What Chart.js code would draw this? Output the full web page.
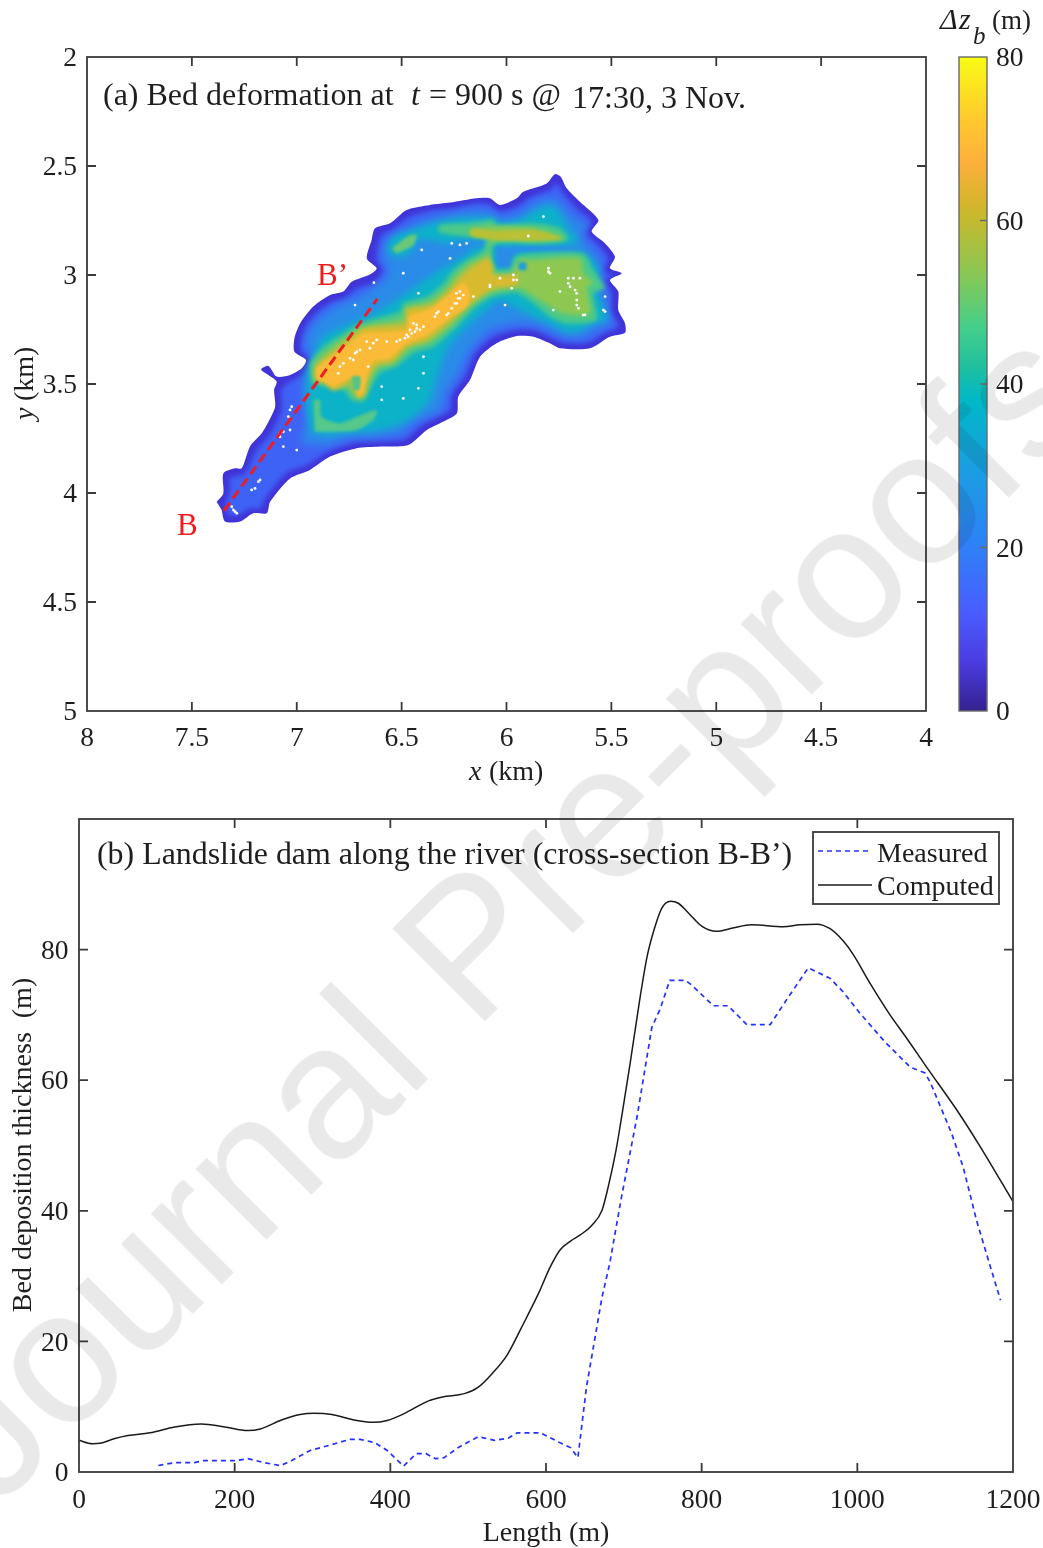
<!DOCTYPE html>
<html><head><meta charset="utf-8">
<style>
html,body{margin:0;padding:0;background:#fff;width:1043px;height:1548px;overflow:hidden}
.box{position:absolute}
#wm{position:absolute;left:502px;top:911px;white-space:nowrap;font:190px "Liberation Sans",sans-serif;color:#e9e9e9;mix-blend-mode:multiply;transform:translate(-50%,-50%) rotate(-45deg);pointer-events:none;z-index:5}
</style>
<script src="https://cdn.jsdelivr.net/npm/chart.js@4/dist/chart.umd.js"></script>
</head><body>
<div class="box" style="left:0;top:0;width:945px;height:800px"><canvas id="map"></canvas></div>
<div class="box" style="left:925px;top:0;width:118px;height:800px"><canvas id="cb"></canvas></div>
<div class="box" style="left:0;top:800px;width:1043px;height:748px"><canvas id="prof"></canvas></div>
<div id="wm">Journal Pre-proofs</div>
<script>
// ---------- panel (a): tick labels, km ----------
const mapXTicks=[8,7.5,7,6.5,6,5.5,5,4.5,4];
const mapYTicks=[2,2.5,3,3.5,4,4.5,5];
const cbTicks=[0,20,40,60,80];
const cbValues=[0,6,12,20,30,38,42,47,53,60,62,67,72,80];
const cbColors=['#35218f','#4a3ce0','#4a5cff','#2f80f8','#1a9fe0','#00b8c8','#1fbfa0','#45cf8a','#85c858','#c3ba2f','#d4b52c','#fdb03c','#ffc72f','#f9fb15'];
// contour bands of bed deformation: [x km, y km]
const band0=[[7.382,4.040],[7.350,4.002],[7.350,3.910],[7.294,3.887],[7.262,3.887],[7.223,3.787],[7.167,3.726],[7.135,3.673],[7.103,3.604],[7.108,3.527],[7.096,3.489],[7.135,3.459],[7.170,3.433],[7.135,3.417],[7.096,3.466],[7.032,3.459],[6.976,3.428],[6.956,3.390],[7.011,3.352],[7.011,3.290],[6.984,3.222],[6.921,3.145],[6.841,3.092],[6.778,3.076],[6.738,3.031],[6.651,2.998],[6.619,2.969],[6.666,2.924],[6.643,2.839],[6.627,2.786],[6.555,2.763],[6.476,2.702],[6.365,2.679],[6.269,2.668],[6.142,2.648],[6.079,2.648],[6.031,2.679],[5.951,2.648],[5.920,2.618],[5.808,2.580],[5.769,2.537],[5.742,2.549],[5.713,2.602],[5.650,2.664],[5.562,2.748],[5.594,2.801],[5.530,2.855],[5.483,2.916],[5.507,2.969],[5.451,2.992],[5.507,3.023],[5.467,3.076],[5.467,3.161],[5.435,3.222],[5.435,3.265],[5.507,3.283],[5.602,3.336],[5.745,3.336],[5.793,3.313],[5.872,3.283],[5.951,3.280],[6.047,3.313],[6.126,3.375],[6.174,3.482],[6.230,3.558],[6.237,3.635],[6.317,3.680],[6.380,3.711],[6.468,3.780],[6.603,3.787],[6.714,3.795],[6.841,3.833],[6.937,3.894],[7.032,3.933],[7.127,4.040],[7.143,4.093],[7.207,4.093],[7.270,4.131],[7.342,4.131],[7.358,4.078]];
const band1=[[7.342,4.063],[7.318,3.979],[7.318,3.933],[7.262,3.917],[7.239,3.902],[7.191,3.803],[7.135,3.742],[7.103,3.688],[7.072,3.619],[7.072,3.528],[7.032,3.489],[6.953,3.451],[6.921,3.398],[6.976,3.352],[6.976,3.298],[6.953,3.229],[6.897,3.168],[6.825,3.122],[6.762,3.102],[6.714,3.061],[6.635,3.038],[6.587,2.977],[6.619,2.931],[6.611,2.855],[6.595,2.817],[6.539,2.786],[6.460,2.732],[6.349,2.702],[6.253,2.694],[6.142,2.671],[6.079,2.679],[6.031,2.709],[5.936,2.679],[5.896,2.648],[5.793,2.610],[5.761,2.580],[5.729,2.625],[5.665,2.694],[5.594,2.755],[5.618,2.809],[5.562,2.862],[5.515,2.924],[5.538,2.985],[5.491,3.000],[5.530,3.023],[5.499,3.084],[5.499,3.168],[5.467,3.229],[5.475,3.245],[5.522,3.260],[5.610,3.310],[5.729,3.310],[5.777,3.291],[5.864,3.255],[5.951,3.252],[6.063,3.283],[6.150,3.359],[6.198,3.466],[6.261,3.550],[6.269,3.619],[6.341,3.657],[6.404,3.688],[6.484,3.754],[6.611,3.764],[6.722,3.769],[6.849,3.810],[6.953,3.872],[7.048,3.907],[7.151,4.024],[7.175,4.070],[7.223,4.070],[7.278,4.101],[7.326,4.101]];
const band2=[[6.984,3.772],[6.953,3.665],[6.968,3.543],[6.968,3.451],[6.913,3.375],[6.953,3.336],[6.945,3.268],[6.881,3.191],[6.810,3.145],[6.698,3.099],[6.635,3.061],[6.563,2.998],[6.587,2.916],[6.563,2.839],[6.508,2.809],[6.428,2.763],[6.317,2.732],[6.190,2.709],[6.079,2.709],[6.031,2.740],[5.936,2.717],[5.856,2.664],[5.777,2.648],[5.737,2.671],[5.681,2.740],[5.618,2.771],[5.650,2.817],[5.602,2.878],[5.554,2.931],[5.570,2.992],[5.530,3.008],[5.562,3.031],[5.530,3.099],[5.522,3.191],[5.499,3.229],[5.554,3.237],[5.634,3.283],[5.721,3.283],[5.777,3.260],[5.856,3.229],[5.959,3.222],[6.079,3.252],[6.174,3.344],[6.230,3.451],[6.293,3.543],[6.309,3.612],[6.365,3.642],[6.436,3.673],[6.508,3.726],[6.635,3.742],[6.746,3.745],[6.857,3.780]];
const band3=[[6.929,3.719],[6.953,3.604],[6.945,3.466],[6.929,3.390],[6.873,3.283],[6.778,3.237],[6.635,3.176],[6.524,3.115],[6.412,3.038],[6.317,2.977],[6.206,2.916],[6.142,2.870],[6.110,2.885],[6.094,2.839],[6.222,2.839],[6.285,2.855],[6.365,2.839],[6.428,2.839],[6.460,2.901],[6.524,2.916],[6.571,2.885],[6.539,2.824],[6.444,2.794],[6.349,2.763],[6.206,2.740],[6.063,2.740],[6.031,2.763],[5.936,2.748],[5.856,2.702],[5.777,2.687],[5.737,2.732],[5.697,2.801],[5.650,2.839],[5.713,2.862],[5.665,2.885],[5.602,2.924],[5.554,2.977],[5.570,3.023],[5.570,3.084],[5.546,3.130],[5.515,3.206],[5.570,3.214],[5.665,3.260],[5.721,3.260],[5.793,3.222],[5.872,3.191],[5.967,3.145],[6.031,3.115],[6.094,3.161],[6.206,3.252],[6.285,3.344],[6.325,3.451],[6.365,3.573],[6.444,3.650],[6.539,3.696],[6.666,3.719],[6.778,3.726],[6.857,3.734]];
const notchN=[[6.055,2.867],[5.713,2.867],[5.634,2.893],[5.951,2.901],[5.975,2.969],[6.047,2.969]];
const band4a=[[6.929,3.497],[6.937,3.405],[6.873,3.329],[6.778,3.268],[6.698,3.222],[6.508,3.168],[6.492,3.130],[6.381,3.099],[6.301,3.038],[6.253,2.977],[6.190,2.931],[6.110,2.885],[6.102,2.832],[6.190,2.824],[6.253,2.817],[6.325,2.801],[6.317,2.771],[6.190,2.763],[6.063,2.748],[6.047,2.771],[5.872,2.763],[5.745,2.786],[5.705,2.839],[5.808,2.855],[6.063,2.862],[6.055,2.969],[5.983,2.969],[5.959,2.916],[5.872,2.901],[5.634,2.901],[5.586,2.977],[5.530,3.061],[5.586,3.084],[5.570,3.206],[5.713,3.222],[5.793,3.191],[5.872,3.130],[5.951,3.084],[6.063,3.099],[6.142,3.145],[6.237,3.237],[6.349,3.329],[6.444,3.359],[6.524,3.420],[6.603,3.451],[6.651,3.527],[6.682,3.581],[6.738,3.573],[6.778,3.527],[6.873,3.512]];
const band4b=[[6.921,3.573],[6.889,3.573],[6.881,3.650],[6.794,3.680],[6.714,3.650],[6.619,3.619],[6.635,3.665],[6.714,3.711],[6.825,3.719],[6.913,3.719]];
const band4c=[[6.547,2.878],[6.460,2.817],[6.428,2.817],[6.444,2.862],[6.524,2.901]];
const band5=[[6.913,3.482],[6.913,3.405],[6.849,3.344],[6.762,3.283],[6.682,3.237],[6.492,3.199],[6.484,3.153],[6.365,3.122],[6.285,3.061],[6.238,3.000],[6.174,2.946],[6.094,2.908],[6.079,2.870],[6.079,2.832],[6.158,2.824],[6.174,2.794],[6.063,2.778],[5.872,2.786],[5.729,2.832],[5.872,2.847],[6.063,2.847],[6.079,2.977],[6.063,2.992],[5.983,3.000],[5.936,2.931],[5.872,2.931],[5.650,2.924],[5.634,2.992],[5.586,3.038],[5.618,3.054],[5.602,3.176],[5.729,3.176],[5.840,3.115],[5.936,3.061],[6.063,3.076],[6.158,3.130],[6.253,3.222],[6.365,3.306],[6.460,3.336],[6.539,3.405],[6.619,3.428],[6.666,3.527],[6.698,3.566],[6.730,3.543],[6.762,3.512],[6.825,3.527],[6.857,3.497]];
const notchE=[[5.943,2.943],[5.907,2.943],[5.907,2.977],[5.943,2.977]];
const band6a=[[6.913,3.482],[6.913,3.428],[6.833,3.359],[6.746,3.291],[6.682,3.245],[6.476,3.222],[6.476,3.161],[6.357,3.138],[6.277,3.076],[6.222,3.015],[6.158,2.962],[6.087,2.924],[6.063,2.962],[6.063,3.000],[5.951,3.000],[5.951,3.046],[6.063,3.061],[6.158,3.122],[6.261,3.206],[6.381,3.298],[6.476,3.329],[6.547,3.398],[6.619,3.413],[6.666,3.489],[6.674,3.550],[6.714,3.558],[6.738,3.466],[6.762,3.497],[6.825,3.527],[6.865,3.497]];
const band6b=[[6.047,2.801],[5.872,2.794],[5.737,2.832],[5.872,2.839],[6.047,2.839],[6.174,2.817],[6.166,2.786]];
const band7=[[6.905,3.474],[6.905,3.428],[6.825,3.367],[6.738,3.306],[6.682,3.268],[6.476,3.252],[6.468,3.191],[6.357,3.153],[6.277,3.092],[6.206,3.038],[6.174,3.084],[6.190,3.145],[6.261,3.191],[6.381,3.275],[6.476,3.314],[6.555,3.382],[6.635,3.398],[6.666,3.466],[6.682,3.535],[6.706,3.558],[6.714,3.466],[6.762,3.482],[6.825,3.512]];
const notchS=[[6.738,3.466],[6.698,3.466],[6.701,3.527],[6.730,3.527]];
const speckles=[[6.722,3.138],[6.420,3.084],[6.492,2.992],[6.404,2.885],[6.261,2.855],[6.222,2.862],[6.190,2.855],[6.269,2.924],[6.079,3.046],[5.975,3.061],[6.031,3.015],[5.951,3.023],[5.800,2.985],[5.705,3.038],[5.673,3.069],[5.665,3.115],[5.657,3.153],[5.634,3.184],[5.530,3.099],[5.530,3.168],[5.777,3.161],[5.745,3.076],[5.824,2.732],[5.896,2.821],[6.007,3.138],[6.158,3.099],[6.222,3.107],[6.238,3.130],[6.277,3.176],[6.333,3.176],[6.428,3.229],[6.460,3.252],[6.476,3.275],[6.508,3.298],[6.635,3.313],[6.698,3.344],[6.746,3.382],[6.794,3.420],[6.659,3.420],[6.595,3.512],[6.595,3.573],[6.492,3.566],[6.420,3.520],[6.396,3.375],[6.396,3.451],[7.032,3.619],[7.080,3.726],[7.032,3.711],[7.064,3.787],[7.000,3.803],[7.175,3.940],[7.215,3.986],[7.302,4.078],[7.286,4.093],[6.632,3.035],
 [6.444,3.222],[6.428,3.245],[6.412,3.252],[6.396,3.237],[6.452,3.268],[6.484,3.290],[6.468,3.283],[6.436,3.260],
 [6.238,3.084],[6.222,3.076],[6.206,3.092],[6.230,3.107],[6.245,3.130],[6.261,3.153],[6.285,3.183],[6.325,3.168],[6.341,3.191],
 [6.666,3.306],[6.619,3.298],[6.571,3.306],[6.524,3.306],[6.651,3.336],[6.714,3.352],[6.730,3.390],[6.778,3.405],[6.802,3.451],[6.722,3.359],
 [5.705,3.015],[5.681,3.015],[5.650,3.015],[5.697,3.054],[5.665,3.084],[5.665,3.138],[5.626,3.183],[5.800,2.969],[5.793,2.992],[5.967,3.000],[5.967,3.023],[6.079,3.054],[5.538,3.161],
 [7.040,3.650],[7.024,3.604],[7.080,3.742],[7.064,3.719],[7.199,3.979],[7.183,3.948],[7.310,4.063],[7.294,4.086]];
const lineBB=[[7.347,4.081],[6.616,3.110]];
// ---------- panel (b) ----------
const profXTicks=[0,200,400,600,800,1000,1200];
const profYTicks=[0,20,40,60,80];
const computedX=[0,17,27,45,63,91,123,157,187,217,233,261,284,302,325,352,378,396,417,449,467,495,513,531,550,568,591,605,618,632,644,659,672,680,690,698,708,720,730,740,749,760,770,783,800,819,840,864,905,926,948,965,982,995,1016,1042,1063,1089,1128,1158,1200];
const computedY=[4.85,4.34,4.4,5.1,5.6,6.0,6.9,7.35,6.9,6.35,6.6,8.0,8.8,9.0,8.8,8.0,7.6,7.9,8.9,10.9,11.5,12.0,13.0,15.1,17.9,22,27.5,31.3,34,35.4,36.3,37.8,40.1,43.7,49.3,55,62.5,72,79,83.5,86.4,87.4,87.1,85.6,83.6,82.8,83.3,83.8,83.5,83.8,83.9,83.2,81.3,79.2,74.9,70,66.5,62,55.4,49.8,41.4];
const measuredX=[102,123,148,160,201,217,238,259,274,297,325,348,361,380,396,417,433,446,458,469,488,513,534,552,563,593,616,632,641,652,672,682,697,717,736,747,759,779,787,815,834,858,888,909,937,965,982,1003,1036,1068,1087,1094,1121,1136,1153,1171,1184];
const measuredY=[1.0,1.43,1.43,1.74,1.74,2.04,1.43,0.97,1.8,3.3,4.2,5.0,5.0,4.5,3.3,0.9,2.8,2.8,2.04,2.2,3.8,5.4,4.85,5.2,6.0,6.0,4.6,3.7,2.2,13,26.8,32,42.1,54.4,68.1,71,75.3,75.3,74.6,71.4,71.4,68.5,68.5,72.3,77.2,75.6,73.5,70.3,65.8,62,61.1,59.6,51.9,46.7,38.6,31.4,26.3];

const SERIF='"Liberation Serif","Times New Roman",serif';
const INK='#1e1e1e', AXIS='#3a3a3a';
const tick=(n)=>String(n);
const toPts=a=>a.map(p=>({x:p[0],y:p[1]}));
function put(ctx,str,x,y,o={}){
  ctx.save();
  ctx.font=(o.italic?'italic ':'')+(o.size||28)+'px '+SERIF;
  ctx.fillStyle=o.color||INK;ctx.textAlign=o.align||'left';ctx.textBaseline='alphabetic';
  ctx.translate(x,y);if(o.rot)ctx.rotate(o.rot);
  ctx.fillText(str,0,0);ctx.restore();
}
const frameTicks={id:'frameTicks',afterDraw(c,_,o){
  const a=c.chartArea,ctx=c.ctx,L=o.len||9;
  ctx.save();ctx.strokeStyle=o.color||AXIS;ctx.lineWidth=o.width||1.8;
  ctx.strokeRect(a.left,a.top,a.right-a.left,a.bottom-a.top);
  ctx.beginPath();
  if(c.scales.x&&c.scales.x.options.display!==false&&!o.rightOnly){
    c.scales.x.ticks.forEach(t=>{const p=c.scales.x.getPixelForValue(t.value);
      if(Math.abs(p-a.left)<1||Math.abs(p-a.right)<1)return;
      ctx.moveTo(p,a.bottom);ctx.lineTo(p,a.bottom-L);ctx.moveTo(p,a.top);ctx.lineTo(p,a.top+L);});
  }
  c.scales.y.ticks.forEach(t=>{const p=c.scales.y.getPixelForValue(t.value);
    if(Math.abs(p-a.top)<1||Math.abs(p-a.bottom)<1)return;
    if(!o.rightOnly){ctx.moveTo(a.left,p);ctx.lineTo(a.left+L,p);}
    ctx.moveTo(a.right,p);ctx.lineTo(a.right-L,p);});
  ctx.stroke();ctx.restore();
}};
const bandFill={id:'bandFill',beforeDatasetDraw(c,args){
  const d=c.data.datasets[args.index];if(!d.bandColor)return;
  const ctx=c.ctx,m=args.meta;
  ctx.save();
  if(args.index>0){ctx.beginPath();c.getDatasetMeta(0).dataset.path(ctx);ctx.closePath();ctx.clip();}
  if(d.bandBlur)ctx.filter='blur('+d.bandBlur+'px)';
  ctx.fillStyle=d.bandColor;ctx.beginPath();m.dataset.path(ctx);ctx.closePath();ctx.fill();
  ctx.restore();
}};
const mapText={id:'mapText',afterDraw(c){
  const ctx=c.ctx,sx=c.scales.x,sy=c.scales.y;
  put(ctx,'(a) Bed deformation at',103,105,{size:32});
  put(ctx,'t',411,105,{size:32,italic:true});
  put(ctx,'= 900 s @',429,105,{size:32});
  put(ctx,'17:30, 3 Nov.',572,108,{size:32});
  put(ctx,'B’',sx.getPixelForValue(6.903),sy.getPixelForValue(3.046),{size:31,color:'#f01c1c'});
  put(ctx,'B',sx.getPixelForValue(7.571),sy.getPixelForValue(4.193),{size:31,color:'#f01c1c'});
  put(ctx,'x',469,780,{size:28,italic:true});
  put(ctx,'(km)',489,780,{size:28});
  put(ctx,'y',33,420,{size:28,italic:true,rot:-Math.PI/2});
  put(ctx,'(km)',33,401,{size:28,rot:-Math.PI/2});
}};
const cbText={id:'cbText',afterDraw(c){
  const ctx=c.ctx;
  put(ctx,'Δ',15,29,{size:30,italic:true});
  put(ctx,'z',34,29,{size:30,italic:true});
  put(ctx,'b',48,44,{size:25,italic:true});
  put(ctx,'(m)',67,29,{size:27});
}};
const profText={id:'profText',afterDraw(c){
  const ctx=c.ctx,T=-800,d=c.data.datasets;
  put(ctx,'(b) Landslide dam along the river (cross-section B-B’)',97,864+T,{size:31.9});
  ctx.save();
  ctx.fillStyle='#fff';ctx.strokeStyle=AXIS;ctx.lineWidth=1.8;
  ctx.fillRect(813,832+T,186,72);ctx.strokeRect(813,832+T,186,72);
  ctx.lineWidth=1.5;ctx.strokeStyle=d[0].borderColor;ctx.setLineDash([5,4]);
  ctx.beginPath();ctx.moveTo(818,851+T);ctx.lineTo(872,851+T);ctx.stroke();
  ctx.setLineDash([]);ctx.strokeStyle=d[1].borderColor;
  ctx.beginPath();ctx.moveTo(818,885+T);ctx.lineTo(872,885+T);ctx.stroke();
  ctx.restore();
  put(ctx,d[0].label,877,862+T,{size:28});
  put(ctx,d[1].label,877,895+T,{size:28});
  put(ctx,'Length (m)',546,1541+T,{size:28,align:'center'});
  put(ctx,'Bed deposition thickness  (m)',31,1145+T,{size:28,align:'center',rot:-Math.PI/2});
}};
const fixAxis=(w,h)=>(s)=>{if(w!=null)s.width=w;if(h!=null)s.height=h;s.paddingLeft=s.paddingRight=s.paddingTop=s.paddingBottom=0;};
const numFont={family:SERIF,size:27.5};
const band=(data,color,blur,i)=>({data:toPts(data),showLine:true,fill:false,tension:0.25,borderWidth:0,pointRadius:0,bandColor:color,bandBlur:blur,order:100-i});
const base={responsive:false,animation:false,events:[]};
const sizeCanvas=(id,w,h)=>{const e=document.getElementById(id);e.width=w;e.height=h;e.style.width=w+'px';e.style.height=h+'px';e.style.display='block';return e;};

const sets=[
 band(band0,'#4034d8',0.5,0),band(band1,'#3f62f6',2.5,1),band(band2,'#2a8ce8',4.5,2),band(band3,'#0cb2c8',3.5,3),
 band(notchN,'#2a8ce8',2,4),band(band4a,'#4cc988',2,5),band(band4b,'#55c88a',1.5,6),band(band4c,'#6ac878',1.5,7),
 band(band5,'#8ec850',2,8),band(notchE,'#1f9ed8',1.5,9),band(band6a,'#d8ba2f',2,10),band(band6b,'#b9c035',1.5,11),
 band(band7,'#fbbb38',1.6,12),band(notchS,'#55c488',1.2,13),
 {label:'speckle',data:toPts(speckles),showLine:false,pointRadius:1.4,pointBorderWidth:0,pointBackgroundColor:'#ffffff',order:2},
 {label:'B-B’',data:toPts(lineBB),showLine:true,tension:0,fill:false,borderColor:'#ee1c25',borderWidth:3,borderDash:[10,5],pointRadius:0,order:1}
];
new Chart(sizeCanvas('map',945,800),{type:'scatter',data:{datasets:sets},plugins:[bandFill,frameTicks,mapText],options:{...base,
 layout:{padding:{top:57,right:19,left:0,bottom:0}},
 plugins:{legend:{display:false},tooltip:{enabled:false}},
 scales:{
  x:{type:'linear',reverse:true,min:4,max:8,grid:{display:false,drawTicks:false},border:{display:false},afterFit:fixAxis(null,89),
     afterBuildTicks:s=>{s.ticks=mapXTicks.map(v=>({value:v}));},ticks:{color:INK,font:numFont,padding:11,maxRotation:0,autoSkip:false,callback:tick}},
  y:{type:'linear',reverse:true,min:2,max:5,grid:{display:false,drawTicks:false},border:{display:false},afterFit:fixAxis(87,null),
     afterBuildTicks:s=>{s.ticks=mapYTicks.map(v=>({value:v}));},ticks:{color:INK,font:numFont,padding:10,labelOffset:2,autoSkip:false,callback:tick}}
 }}});

new Chart(sizeCanvas('cb',118,800),{type:'bar',data:{labels:['Δz_b'],datasets:[{data:[[cbTicks[0],cbTicks[cbTicks.length-1]]],barPercentage:1,categoryPercentage:1,borderWidth:0,
  backgroundColor(ctx){const c=ctx.chart,a=c.chartArea;if(!a)return cbColors[0];const y=c.scales.y;
   const g=c.ctx.createLinearGradient(0,y.getPixelForValue(0),0,y.getPixelForValue(80));
   cbValues.forEach((v,i)=>g.addColorStop(v/80,cbColors[i]));return g;}}]},
 plugins:[frameTicks,cbText],options:{...base,
 layout:{padding:{top:57,left:34,right:0,bottom:89}},
 plugins:{legend:{display:false},tooltip:{enabled:false},frameTicks:{rightOnly:true,color:'#6a6a6a',len:7,width:1.4}},
 scales:{x:{display:false},
  y:{position:'right',min:0,max:80,grid:{display:false,drawTicks:false},border:{display:false},afterFit:fixAxis(56,null),
     afterBuildTicks:s=>{s.ticks=cbTicks.map(v=>({value:v}));},ticks:{color:INK,font:numFont,padding:9,labelOffset:2,autoSkip:false,callback:tick}}
 }}});

new Chart(sizeCanvas('prof',1043,748),{type:'line',data:{datasets:[
 {label:'Measured',data:measuredX.map((x,i)=>({x,y:measuredY[i]})),borderColor:'#2330ff',borderWidth:1.7,borderDash:[5,4],pointRadius:0,tension:0,fill:false},
 {label:'Computed',data:computedX.map((x,i)=>({x,y:computedY[i]})),borderColor:'#1a1a1a',borderWidth:1.5,pointRadius:0,cubicInterpolationMode:'monotone',fill:false}
 ]},plugins:[frameTicks,profText],options:{...base,
 layout:{padding:{top:19,right:30,left:0,bottom:0}},
 plugins:{legend:{display:false},tooltip:{enabled:false}},
 scales:{
  x:{type:'linear',min:0,max:1200,grid:{display:false,drawTicks:false},border:{display:false},afterFit:fixAxis(null,76),
     afterBuildTicks:s=>{s.ticks=profXTicks.map(v=>({value:v}));},ticks:{color:INK,font:numFont,padding:12,maxRotation:0,autoSkip:false,callback:tick}},
  y:{type:'linear',min:0,max:100,grid:{display:false,drawTicks:false},border:{display:false},afterFit:fixAxis(79,null),
     afterBuildTicks:s=>{s.ticks=profYTicks.map(v=>({value:v}));},ticks:{color:INK,font:numFont,padding:10.5,labelOffset:2,autoSkip:false,callback:tick}}
 }}});
</script>
</body></html>
